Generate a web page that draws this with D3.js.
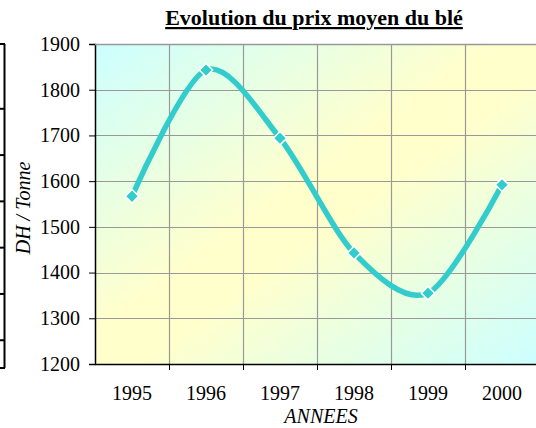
<!DOCTYPE html>
<html>
<head>
<meta charset="utf-8">
<script src="https://cdn.jsdelivr.net/npm/d3@7"></script>
<style>
  body { margin: 0; background: #fff; }
</style>
</head>
<body>
<div id="chart"></div>
<script>
// data
var years = ["1995", "1996", "1997", "1998", "1999", "2000"];
var prices = [1567, 1843, 1694, 1443, 1355, 1592];
var yTicks = [1200, 1300, 1400, 1500, 1600, 1700, 1800, 1900];

var lineColor = "#33CCCC";
var gridColor = "#999999";
var serif = "'Liberation Serif'";

const W = 536, H = 428;
const plot = { left: 95, top: 44, right: 539, bottom: 364 };

const svg = d3.select("#chart")
  .append("svg")
  .attr("width", W)
  .attr("height", H);

// background gradient (cyan - yellow - cyan, diagonal)
const grad = svg.append("defs").append("linearGradient")
  .attr("id", "bg")
  .attr("x1", 0).attr("y1", 0).attr("x2", 1).attr("y2", 1);
grad.append("stop").attr("offset", "0%").attr("stop-color", "#CCFFFF");
grad.append("stop").attr("offset", "45%").attr("stop-color", "#FFFFCC");
grad.append("stop").attr("offset", "55%").attr("stop-color", "#FFFFCC");
grad.append("stop").attr("offset", "100%").attr("stop-color", "#CCFFFF");

const x = d3.scaleBand()
  .domain(years)
  .range([plot.left, plot.right]);

const y = d3.scaleLinear()
  .domain([1200, 1900])
  .range([plot.bottom, plot.top]);

svg.append("rect")
  .attr("x", plot.left)
  .attr("y", plot.top)
  .attr("width", plot.right - plot.left)
  .attr("height", plot.bottom - plot.top)
  .attr("fill", "url(#bg)");

// horizontal grid
svg.append("g")
  .selectAll("line")
  .data(yTicks.slice(1))
  .enter()
  .append("line")
  .attr("x1", plot.left).attr("x2", plot.right)
  .attr("y1", d => Math.round(y(d)) + 0.5)
  .attr("y2", d => Math.round(y(d)) + 0.5)
  .attr("stroke", gridColor)
  .attr("stroke-width", 1.2);

// vertical grid at the category boundaries
svg.append("g")
  .selectAll("line")
  .data(years.slice(1))
  .enter()
  .append("line")
  .attr("x1", d => Math.round(x(d)) + 0.5)
  .attr("x2", d => Math.round(x(d)) + 0.5)
  .attr("y1", plot.top).attr("y2", plot.bottom)
  .attr("stroke", gridColor)
  .attr("stroke-width", 1.2);

// y axis
const yAxis = svg.append("g")
  .attr("transform", `translate(${plot.left},0)`)
  .call(d3.axisLeft(y).tickValues(yTicks).tickFormat(d3.format("d")).tickSize(6).tickPadding(9));
yAxis.attr("font-family", null).attr("font-size", null);
yAxis.select(".domain").attr("stroke", "#000").attr("stroke-width", 1.5);
yAxis.selectAll("line").attr("stroke", "#000");
yAxis.selectAll("text")
  .style("font-family", serif)
  .style("font-size", "20px")
  .attr("fill", "#000");

// x axis, ticks between the categories
const xAxis = svg.append("g")
  .attr("transform", `translate(0,${plot.bottom})`)
  .call(d3.axisBottom(x).tickSize(0).tickPadding(22));
xAxis.attr("font-family", null).attr("font-size", null);
xAxis.select(".domain").attr("stroke", "#000").attr("stroke-width", 1.5);
xAxis.selectAll("text")
  .style("font-family", serif)
  .style("font-size", "20px")
  .attr("fill", "#000");
xAxis.selectAll(".sep")
  .data(years.slice(1))
  .enter()
  .append("line")
  .attr("x1", d => Math.round(x(d)) + 0.5)
  .attr("x2", d => Math.round(x(d)) + 0.5)
  .attr("y1", 0).attr("y2", 6)
  .attr("stroke", "#000");

// top border
svg.append("line")
  .attr("x1", plot.left).attr("x2", plot.right)
  .attr("y1", plot.top + 0.5).attr("y2", plot.top + 0.5)
  .attr("stroke", gridColor)
  .attr("stroke-width", 1.5);

// stray axis on the far left
const leftScale = d3.scaleLinear().domain([0, 7]).range([plot.top, plot.bottom + 4]);
const leftTicks = [0, 1.4, 2.4, 3.4, 4.4, 5.4, 6.4, 7];
svg.append("line")
  .attr("x1", 4.5).attr("x2", 4.5)
  .attr("y1", plot.top).attr("y2", plot.bottom + 4)
  .attr("stroke", "#000").attr("stroke-width", 2);
svg.append("g")
  .selectAll("line")
  .data(leftTicks)
  .enter()
  .append("line")
  .attr("x1", 0).attr("x2", 5)
  .attr("y1", d => leftScale(d)).attr("y2", d => leftScale(d))
  .attr("stroke", "#000").attr("stroke-width", 2);

// price line
const line = d3.line()
  .x((d, i) => x(years[i]) + x.bandwidth() / 2)
  .y(d => y(d))
  .curve(d3.curveCardinal.tension(0.1));

svg.append("path")
  .datum(prices)
  .attr("d", line)
  .attr("fill", "none")
  .attr("stroke", lineColor)
  .attr("stroke-width", 5.5)
  .attr("stroke-linejoin", "round");

svg.append("g")
  .selectAll("path")
  .data(prices)
  .enter()
  .append("path")
  .attr("d", d3.symbol().type(d3.symbolSquare).size(90))
  .attr("transform", (d, i) => `translate(${x(years[i]) + x.bandwidth() / 2},${y(d)}) rotate(45)`)
  .attr("fill", lineColor)
  .attr("stroke", "#fff")
  .attr("stroke-width", 1.5);

// title
svg.append("text")
  .attr("x", 314)
  .attr("y", 25)
  .attr("text-anchor", "middle")
  .style("font-family", serif)
  .style("font-weight", "bold")
  .style("font-size", "22px")
  .style("text-decoration", "underline")
  .text("Evolution du prix moyen du blé");

// axis titles
svg.append("text")
  .attr("x", 321)
  .attr("y", 423)
  .attr("text-anchor", "middle")
  .style("font-family", serif)
  .style("font-style", "italic")
  .style("font-size", "20px")
  .text("ANNEES");

svg.append("text")
  .attr("transform", "translate(30,208) rotate(-90)")
  .attr("text-anchor", "middle")
  .style("font-family", serif)
  .style("font-style", "italic")
  .style("font-size", "20px")
  .text("DH / Tonne");
</script>
</body>
</html>
